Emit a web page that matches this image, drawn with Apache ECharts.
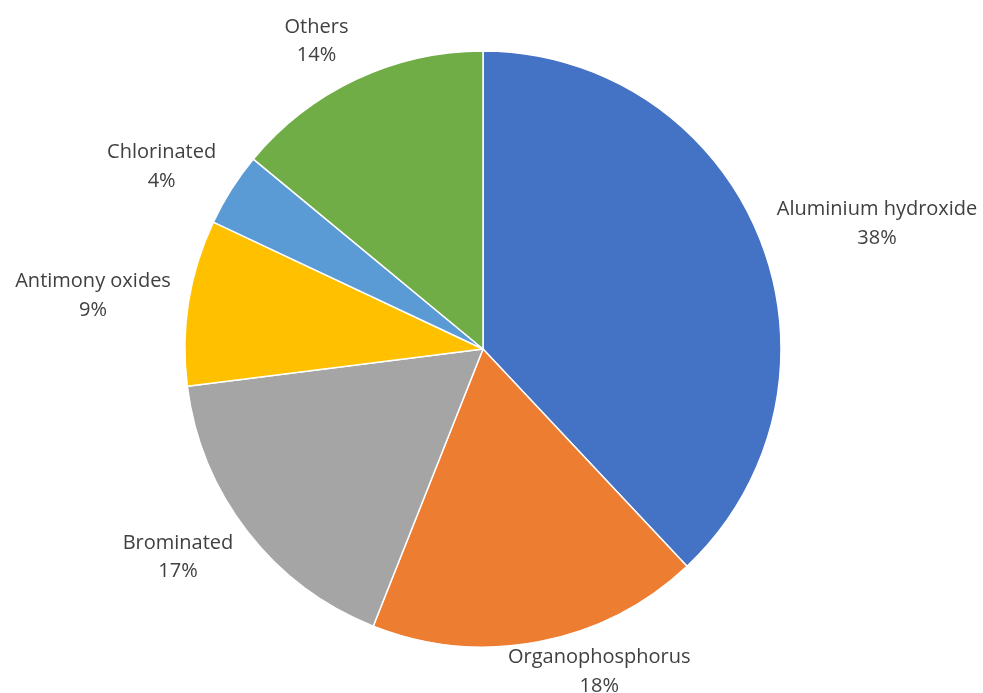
<!DOCTYPE html>
<html>
<head>
<meta charset="utf-8">
<script src="https://cdn.jsdelivr.net/npm/echarts@6/dist/echarts.min.js"></script>
<style>
  html, body { margin: 0; padding: 0; background: #fff; }
  #chart { width: 983px; height: 693px; }
</style>
</head>
<body>
<div id="chart"></div>
<script>
// Flame retardant market shares (%)
const categories = ['Aluminium hydroxide', 'Organophosphorus', 'Brominated', 'Antimony oxides', 'Chlorinated', 'Others'];
const shares = [38, 18, 17, 9, 4, 14];
const colors = ['#4472C4', '#ED7D31', '#A5A5A5', '#FFC000', '#5B9BD5', '#70AD47'];

// Pie geometry
const CX = 483, CY = 349, R = 298;
const LABEL_GAP = 18;
const LINE_HEIGHT = 28.5;

const chart = echarts.init(document.getElementById('chart'), null, { renderer: 'canvas' });
const total = shares.reduce((a, b) => a + b, 0);

// Place each data label just outside its slice, centred on the slice bisector
// and nudged so the text box clears the rim; keep the glyphs inside the canvas.
function placeLabel(params) {
  const i = params.dataIndex;
  let before = 0;
  for (let k = 0; k < i; k++) before += shares[k];
  const mid = (before + shares[i] / 2) / total * Math.PI * 2;
  const dx = Math.sin(mid);
  const dy = -Math.cos(mid);
  const w = params.labelRect.width;
  const h = params.labelRect.height;
  const ax = Math.max(-1, Math.min(1, dx / 0.3));
  let x = CX + (R + LABEL_GAP) * dx + (w / 2) * ax;
  let y = CY + (R + LABEL_GAP) * dy + (h / 2) * 0.85 * dy;
  const W = chart.getWidth(), H = chart.getHeight();
  x = Math.max(w / 2, Math.min(W - w / 2, x));
  // the empty space under the last baseline may run past the bottom edge
  y = Math.max(h / 2, Math.min(H - h / 2 + LINE_HEIGHT * 0.25, y));
  return { x: x, y: y, align: 'center', verticalAlign: 'middle' };
}

chart.setOption({
  animation: false,
  backgroundColor: '#ffffff',
  series: [{
    type: 'pie',
    center: [CX, CY],
    radius: R,
    startAngle: 90,
    clockwise: true,
    avoidLabelOverlap: false,
    percentPrecision: 0,
    itemStyle: { borderColor: '#ffffff', borderWidth: 1.5 },
    label: {
      show: true,
      position: 'outside',
      formatter: '{b}\n{d}%',
      fontFamily: 'Open Sans',
      fontSize: 20,
      lineHeight: LINE_HEIGHT,
      color: '#404040'
    },
    labelLine: { show: false },
    labelLayout: placeLabel,
    data: categories.map((name, i) => ({
      name: name,
      value: shares[i],
      itemStyle: { color: colors[i] }
    }))
  }]
});
</script>
</body>
</html>
